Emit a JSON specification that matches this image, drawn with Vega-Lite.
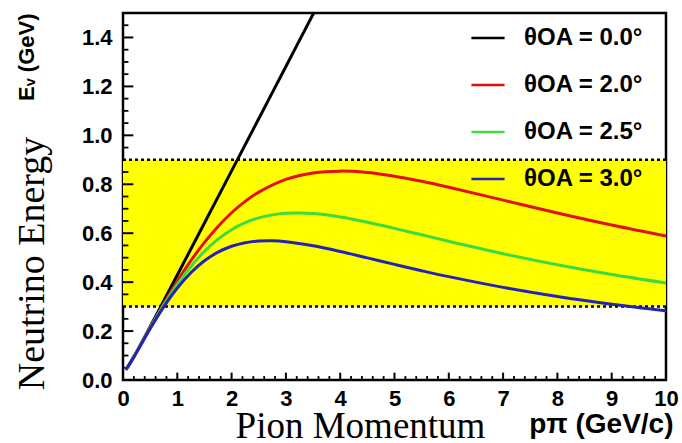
{
  "$schema": "https://vega.github.io/schema/vega-lite/v6.json",
  "width": 543,
  "height": 367,
  "autosize": {"type": "none"},
  "padding": {"left": 123, "top": 13, "right": 16, "bottom": 63},
  "background": "white",
  "config": {
    "view": {"stroke": "black", "strokeWidth": 2.5},
    "axis": {"grid": false, "domain": false, "ticks": false, "labelColor": "black", "titleColor": "black"}
  },
  "datasets": {
    "band": [{"lo": 0.3, "hi": 0.9}],
    "limits": [{"E": 0.3}, {"E": 0.9}],
    "yMajor": [{"v": 0.2}, {"v": 0.4}, {"v": 0.6}, {"v": 0.8}, {"v": 1.0}, {"v": 1.2}, {"v": 1.4}],
    "yMinor": [{"v": 0.05}, {"v": 0.1}, {"v": 0.15}, {"v": 0.25}, {"v": 0.35}, {"v": 0.45}, {"v": 0.5}, {"v": 0.55}, {"v": 0.65}, {"v": 0.7}, {"v": 0.75}, {"v": 0.85}, {"v": 0.95}, {"v": 1.05}, {"v": 1.1}, {"v": 1.15}, {"v": 1.25}, {"v": 1.3}, {"v": 1.35}, {"v": 1.45}],
    "xMajor": [{"v": 1}, {"v": 2}, {"v": 3}, {"v": 4}, {"v": 5}, {"v": 6}, {"v": 7}, {"v": 8}, {"v": 9}],
    "xMinor": [{"v": 0.2}, {"v": 0.4}, {"v": 0.6}, {"v": 0.8}, {"v": 1.2}, {"v": 1.4}, {"v": 1.6}, {"v": 1.8}, {"v": 2.2}, {"v": 2.4}, {"v": 2.6}, {"v": 2.8}, {"v": 3.2}, {"v": 3.4}, {"v": 3.6}, {"v": 3.8}, {"v": 4.2}, {"v": 4.4}, {"v": 4.6}, {"v": 4.8}, {"v": 5.2}, {"v": 5.4}, {"v": 5.6}, {"v": 5.8}, {"v": 6.2}, {"v": 6.4}, {"v": 6.6}, {"v": 6.8}, {"v": 7.2}, {"v": 7.4}, {"v": 7.6}, {"v": 7.8}, {"v": 8.2}, {"v": 8.4}, {"v": 8.6}, {"v": 8.8}, {"v": 9.2}, {"v": 9.4}, {"v": 9.6}, {"v": 9.8}],
    "curves": [
      {"p": 0.05, "E": 0.0423, "theta": "θOA = 0.0°"},
      {"p": 0.1, "E": 0.058, "theta": "θOA = 0.0°"},
      {"p": 0.2, "E": 0.0947, "theta": "θOA = 0.0°"},
      {"p": 0.3, "E": 0.1347, "theta": "θOA = 0.0°"},
      {"p": 0.4, "E": 0.1758, "theta": "θOA = 0.0°"},
      {"p": 0.5, "E": 0.2175, "theta": "θOA = 0.0°"},
      {"p": 0.75, "E": 0.3229, "theta": "θOA = 0.0°"},
      {"p": 1.0, "E": 0.429, "theta": "θOA = 0.0°"},
      {"p": 1.5, "E": 0.6417, "theta": "θOA = 0.0°"},
      {"p": 2.0, "E": 0.8548, "theta": "θOA = 0.0°"},
      {"p": 2.5, "E": 1.068, "theta": "θOA = 0.0°"},
      {"p": 3.0, "E": 1.2814, "theta": "θOA = 0.0°"},
      {"p": 3.5, "E": 1.4947, "theta": "θOA = 0.0°"},
      {"p": 3.6, "E": 1.5374, "theta": "θOA = 0.0°"},
      {"p": 0.05, "E": 0.0423, "theta": "θOA = 2.0°"},
      {"p": 0.1, "E": 0.0579, "theta": "θOA = 2.0°"},
      {"p": 0.2, "E": 0.0945, "theta": "θOA = 2.0°"},
      {"p": 0.3, "E": 0.1339, "theta": "θOA = 2.0°"},
      {"p": 0.4, "E": 0.174, "theta": "θOA = 2.0°"},
      {"p": 0.5, "E": 0.2141, "theta": "θOA = 2.0°"},
      {"p": 0.75, "E": 0.3119, "theta": "θOA = 2.0°"},
      {"p": 1.0, "E": 0.4036, "theta": "θOA = 2.0°"},
      {"p": 1.25, "E": 0.4875, "theta": "θOA = 2.0°"},
      {"p": 1.5, "E": 0.5624, "theta": "θOA = 2.0°"},
      {"p": 1.75, "E": 0.6278, "theta": "θOA = 2.0°"},
      {"p": 2.0, "E": 0.6836, "theta": "θOA = 2.0°"},
      {"p": 2.25, "E": 0.7301, "theta": "θOA = 2.0°"},
      {"p": 2.5, "E": 0.7678, "theta": "θOA = 2.0°"},
      {"p": 3.0, "E": 0.8198, "theta": "θOA = 2.0°"},
      {"p": 3.5, "E": 0.8462, "theta": "θOA = 2.0°"},
      {"p": 4.0, "E": 0.8537, "theta": "θOA = 2.0°"},
      {"p": 4.5, "E": 0.8477, "theta": "θOA = 2.0°"},
      {"p": 5.0, "E": 0.8328, "theta": "θOA = 2.0°"},
      {"p": 5.5, "E": 0.812, "theta": "θOA = 2.0°"},
      {"p": 6.0, "E": 0.7879, "theta": "θOA = 2.0°"},
      {"p": 7.0, "E": 0.7353, "theta": "θOA = 2.0°"},
      {"p": 8.0, "E": 0.6828, "theta": "θOA = 2.0°"},
      {"p": 9.0, "E": 0.6335, "theta": "θOA = 2.0°"},
      {"p": 10.0, "E": 0.5886, "theta": "θOA = 2.0°"},
      {"p": 0.05, "E": 0.0423, "theta": "θOA = 2.5°"},
      {"p": 0.1, "E": 0.0579, "theta": "θOA = 2.5°"},
      {"p": 0.2, "E": 0.0943, "theta": "θOA = 2.5°"},
      {"p": 0.3, "E": 0.1334, "theta": "θOA = 2.5°"},
      {"p": 0.4, "E": 0.173, "theta": "θOA = 2.5°"},
      {"p": 0.5, "E": 0.2122, "theta": "θOA = 2.5°"},
      {"p": 0.75, "E": 0.306, "theta": "θOA = 2.5°"},
      {"p": 1.0, "E": 0.3906, "theta": "θOA = 2.5°"},
      {"p": 1.25, "E": 0.4642, "theta": "θOA = 2.5°"},
      {"p": 1.5, "E": 0.5258, "theta": "θOA = 2.5°"},
      {"p": 1.75, "E": 0.5756, "theta": "θOA = 2.5°"},
      {"p": 2.0, "E": 0.6143, "theta": "θOA = 2.5°"},
      {"p": 2.25, "E": 0.6429, "theta": "θOA = 2.5°"},
      {"p": 2.5, "E": 0.6628, "theta": "θOA = 2.5°"},
      {"p": 2.75, "E": 0.6749, "theta": "θOA = 2.5°"},
      {"p": 3.0, "E": 0.6815, "theta": "θOA = 2.5°"},
      {"p": 3.25, "E": 0.6825, "theta": "θOA = 2.5°"},
      {"p": 3.5, "E": 0.6801, "theta": "θOA = 2.5°"},
      {"p": 4.0, "E": 0.6661, "theta": "θOA = 2.5°"},
      {"p": 4.5, "E": 0.6448, "theta": "θOA = 2.5°"},
      {"p": 5.0, "E": 0.6198, "theta": "θOA = 2.5°"},
      {"p": 5.5, "E": 0.5934, "theta": "θOA = 2.5°"},
      {"p": 6.0, "E": 0.5668, "theta": "θOA = 2.5°"},
      {"p": 7.0, "E": 0.5161, "theta": "θOA = 2.5°"},
      {"p": 8.0, "E": 0.4707, "theta": "θOA = 2.5°"},
      {"p": 9.0, "E": 0.4308, "theta": "θOA = 2.5°"},
      {"p": 10.0, "E": 0.3962, "theta": "θOA = 2.5°"},
      {"p": 0.05, "E": 0.0423, "theta": "θOA = 3.0°"},
      {"p": 0.1, "E": 0.0579, "theta": "θOA = 3.0°"},
      {"p": 0.2, "E": 0.0942, "theta": "θOA = 3.0°"},
      {"p": 0.3, "E": 0.1329, "theta": "θOA = 3.0°"},
      {"p": 0.4, "E": 0.1718, "theta": "θOA = 3.0°"},
      {"p": 0.5, "E": 0.21, "theta": "θOA = 3.0°"},
      {"p": 0.75, "E": 0.2991, "theta": "θOA = 3.0°"},
      {"p": 1.0, "E": 0.3758, "theta": "θOA = 3.0°"},
      {"p": 1.25, "E": 0.4386, "theta": "θOA = 3.0°"},
      {"p": 1.5, "E": 0.4872, "theta": "θOA = 3.0°"},
      {"p": 1.75, "E": 0.5227, "theta": "θOA = 3.0°"},
      {"p": 2.0, "E": 0.5468, "theta": "θOA = 3.0°"},
      {"p": 2.25, "E": 0.5613, "theta": "θOA = 3.0°"},
      {"p": 2.5, "E": 0.5682, "theta": "θOA = 3.0°"},
      {"p": 2.75, "E": 0.5693, "theta": "θOA = 3.0°"},
      {"p": 3.0, "E": 0.5653, "theta": "θOA = 3.0°"},
      {"p": 3.5, "E": 0.5487, "theta": "θOA = 3.0°"},
      {"p": 4.0, "E": 0.5253, "theta": "θOA = 3.0°"},
      {"p": 4.5, "E": 0.4992, "theta": "θOA = 3.0°"},
      {"p": 5.0, "E": 0.4726, "theta": "θOA = 3.0°"},
      {"p": 5.5, "E": 0.4468, "theta": "θOA = 3.0°"},
      {"p": 6.0, "E": 0.4224, "theta": "θOA = 3.0°"},
      {"p": 7.0, "E": 0.3786, "theta": "θOA = 3.0°"},
      {"p": 8.0, "E": 0.3414, "theta": "θOA = 3.0°"},
      {"p": 9.0, "E": 0.31, "theta": "θOA = 3.0°"},
      {"p": 10.0, "E": 0.2833, "theta": "θOA = 3.0°"}
    ]
  },
  "layer": [
    {
      "data": {"name": "band"},
      "mark": {"type": "rect", "color": "#ffff00"},
      "encoding": {
        "y": {
          "field": "lo", "type": "quantitative",
          "scale": {"domain": [0, 1.5], "nice": false, "zero": false},
          "axis": {
            "orient": "left", "labels": false, "ticks": false, "values": [],
            "title": "Eᵥ (GeV)",
            "titleFont": "Liberation Sans", "titleFontWeight": "bold", "titleFontSize": 22,
            "titleAngle": 270, "titleAlign": "right", "titleBaseline": "alphabetic",
            "titleX": -90, "titleY": 0
          }
        },
        "y2": {"field": "hi"}
      }
    },
    {
      "data": {"name": "limits"},
      "mark": {"type": "rule", "color": "black", "strokeWidth": 2.5, "strokeDash": [3, 3]},
      "encoding": {
        "x": {
          "datum": 0, "type": "quantitative",
          "scale": {"domain": [0, 10], "nice": false},
          "axis": {
            "orient": "bottom", "labels": false, "ticks": false, "values": [],
            "title": "pπ (GeV/c)",
            "titleFont": "Liberation Sans", "titleFontWeight": "bold", "titleFontSize": 28,
            "titleAlign": "right", "titleBaseline": "alphabetic",
            "titleX": 550, "titleY": 52
          }
        },
        "x2": {"datum": 10},
        "y": {
          "field": "E", "type": "quantitative",
          "scale": {"domain": [0, 1.5], "nice": false},
          "axis": null
        }
      }
    },
    {
      "data": {"name": "yMajor"},
      "mark": {"type": "rule", "color": "black", "strokeWidth": 2},
      "encoding": {
        "x": {"datum": 0, "type": "quantitative", "scale": {"domain": [0, 10], "nice": false}, "axis": null},
        "x2": {"datum": 0.19},
        "y": {"field": "v", "type": "quantitative", "scale": {"domain": [0, 1.5], "nice": false}, "axis": null}
      }
    },
    {
      "data": {"name": "yMinor"},
      "mark": {"type": "rule", "color": "black", "strokeWidth": 1.8},
      "encoding": {
        "x": {"datum": 0, "type": "quantitative", "scale": {"domain": [0, 10], "nice": false}, "axis": null},
        "x2": {"datum": 0.1},
        "y": {"field": "v", "type": "quantitative", "scale": {"domain": [0, 1.5], "nice": false}, "axis": null}
      }
    },
    {
      "data": {"name": "xMajor"},
      "mark": {"type": "rule", "color": "black", "strokeWidth": 2},
      "encoding": {
        "x": {"field": "v", "type": "quantitative", "scale": {"domain": [0, 10], "nice": false}, "axis": null},
        "y": {"datum": 0, "type": "quantitative", "scale": {"domain": [0, 1.5], "nice": false}, "axis": null},
        "y2": {"datum": 0.03}
      }
    },
    {
      "data": {"name": "xMinor"},
      "mark": {"type": "rule", "color": "black", "strokeWidth": 1.8},
      "encoding": {
        "x": {"field": "v", "type": "quantitative", "scale": {"domain": [0, 10], "nice": false}, "axis": null},
        "y": {"datum": 0, "type": "quantitative", "scale": {"domain": [0, 1.5], "nice": false}, "axis": null},
        "y2": {"datum": 0.016}
      }
    },
    {
      "data": {"name": "curves"},
      "mark": {"type": "line", "strokeWidth": 3, "interpolate": "catmull-rom", "clip": true},
      "encoding": {
        "x": {
          "field": "p", "type": "quantitative",
          "scale": {"domain": [0, 10], "nice": false},
          "axis": {
            "orient": "bottom", "ticks": false,
            "values": [0, 1, 2, 3, 4, 5, 6, 7, 8, 9, 10],
            "labelPadding": 8,
            "labelFont": "Liberation Sans", "labelFontWeight": "bold", "labelFontSize": 22,
            "labelFlush": false,
            "title": "Pion Momentum",
            "titleFont": "Liberation Serif", "titleFontWeight": "normal", "titleFontSize": 37,
            "titleAlign": "center", "titleBaseline": "alphabetic",
            "titleX": 237, "titleY": 57
          }
        },
        "y": {
          "field": "E", "type": "quantitative",
          "scale": {"domain": [0, 1.5], "nice": false},
          "axis": {
            "orient": "left", "ticks": false,
            "values": [0, 0.2, 0.4, 0.6, 0.8, 1, 1.2, 1.4],
            "labelPadding": 11,
            "labelFont": "Liberation Sans", "labelFontWeight": "bold", "labelFontSize": 22,
            "labelFlush": false,
            "title": "Neutrino Energy",
            "titleFont": "Liberation Serif", "titleFontWeight": "normal", "titleFontSize": 38,
            "titleAngle": 270, "titleAlign": "center", "titleBaseline": "alphabetic",
            "titleX": -80, "titleY": 250
          }
        },
        "color": {
          "field": "theta", "type": "nominal",
          "scale": {"domain": ["θOA = 0.0°", "θOA = 2.0°", "θOA = 2.5°", "θOA = 3.0°"], "range": ["#000000", "#e41010", "#3ddc3d", "#2424b4"]},
          "legend": {
            "orient": "none", "legendX": 347, "legendY": 7, "title": null, "padding": 0,
            "symbolType": "stroke", "symbolSize": 1100, "symbolStrokeWidth": 2.5,
            "labelFont": "Liberation Sans", "labelFontWeight": "bold", "labelFontSize": 24,
            "labelColor": "black", "labelOffset": 18, "rowPadding": 17, "labelLimit": 300
          }
        }
      }
    }
  ],
  "resolve": {"scale": {"x": "independent", "y": "independent"}}
}
